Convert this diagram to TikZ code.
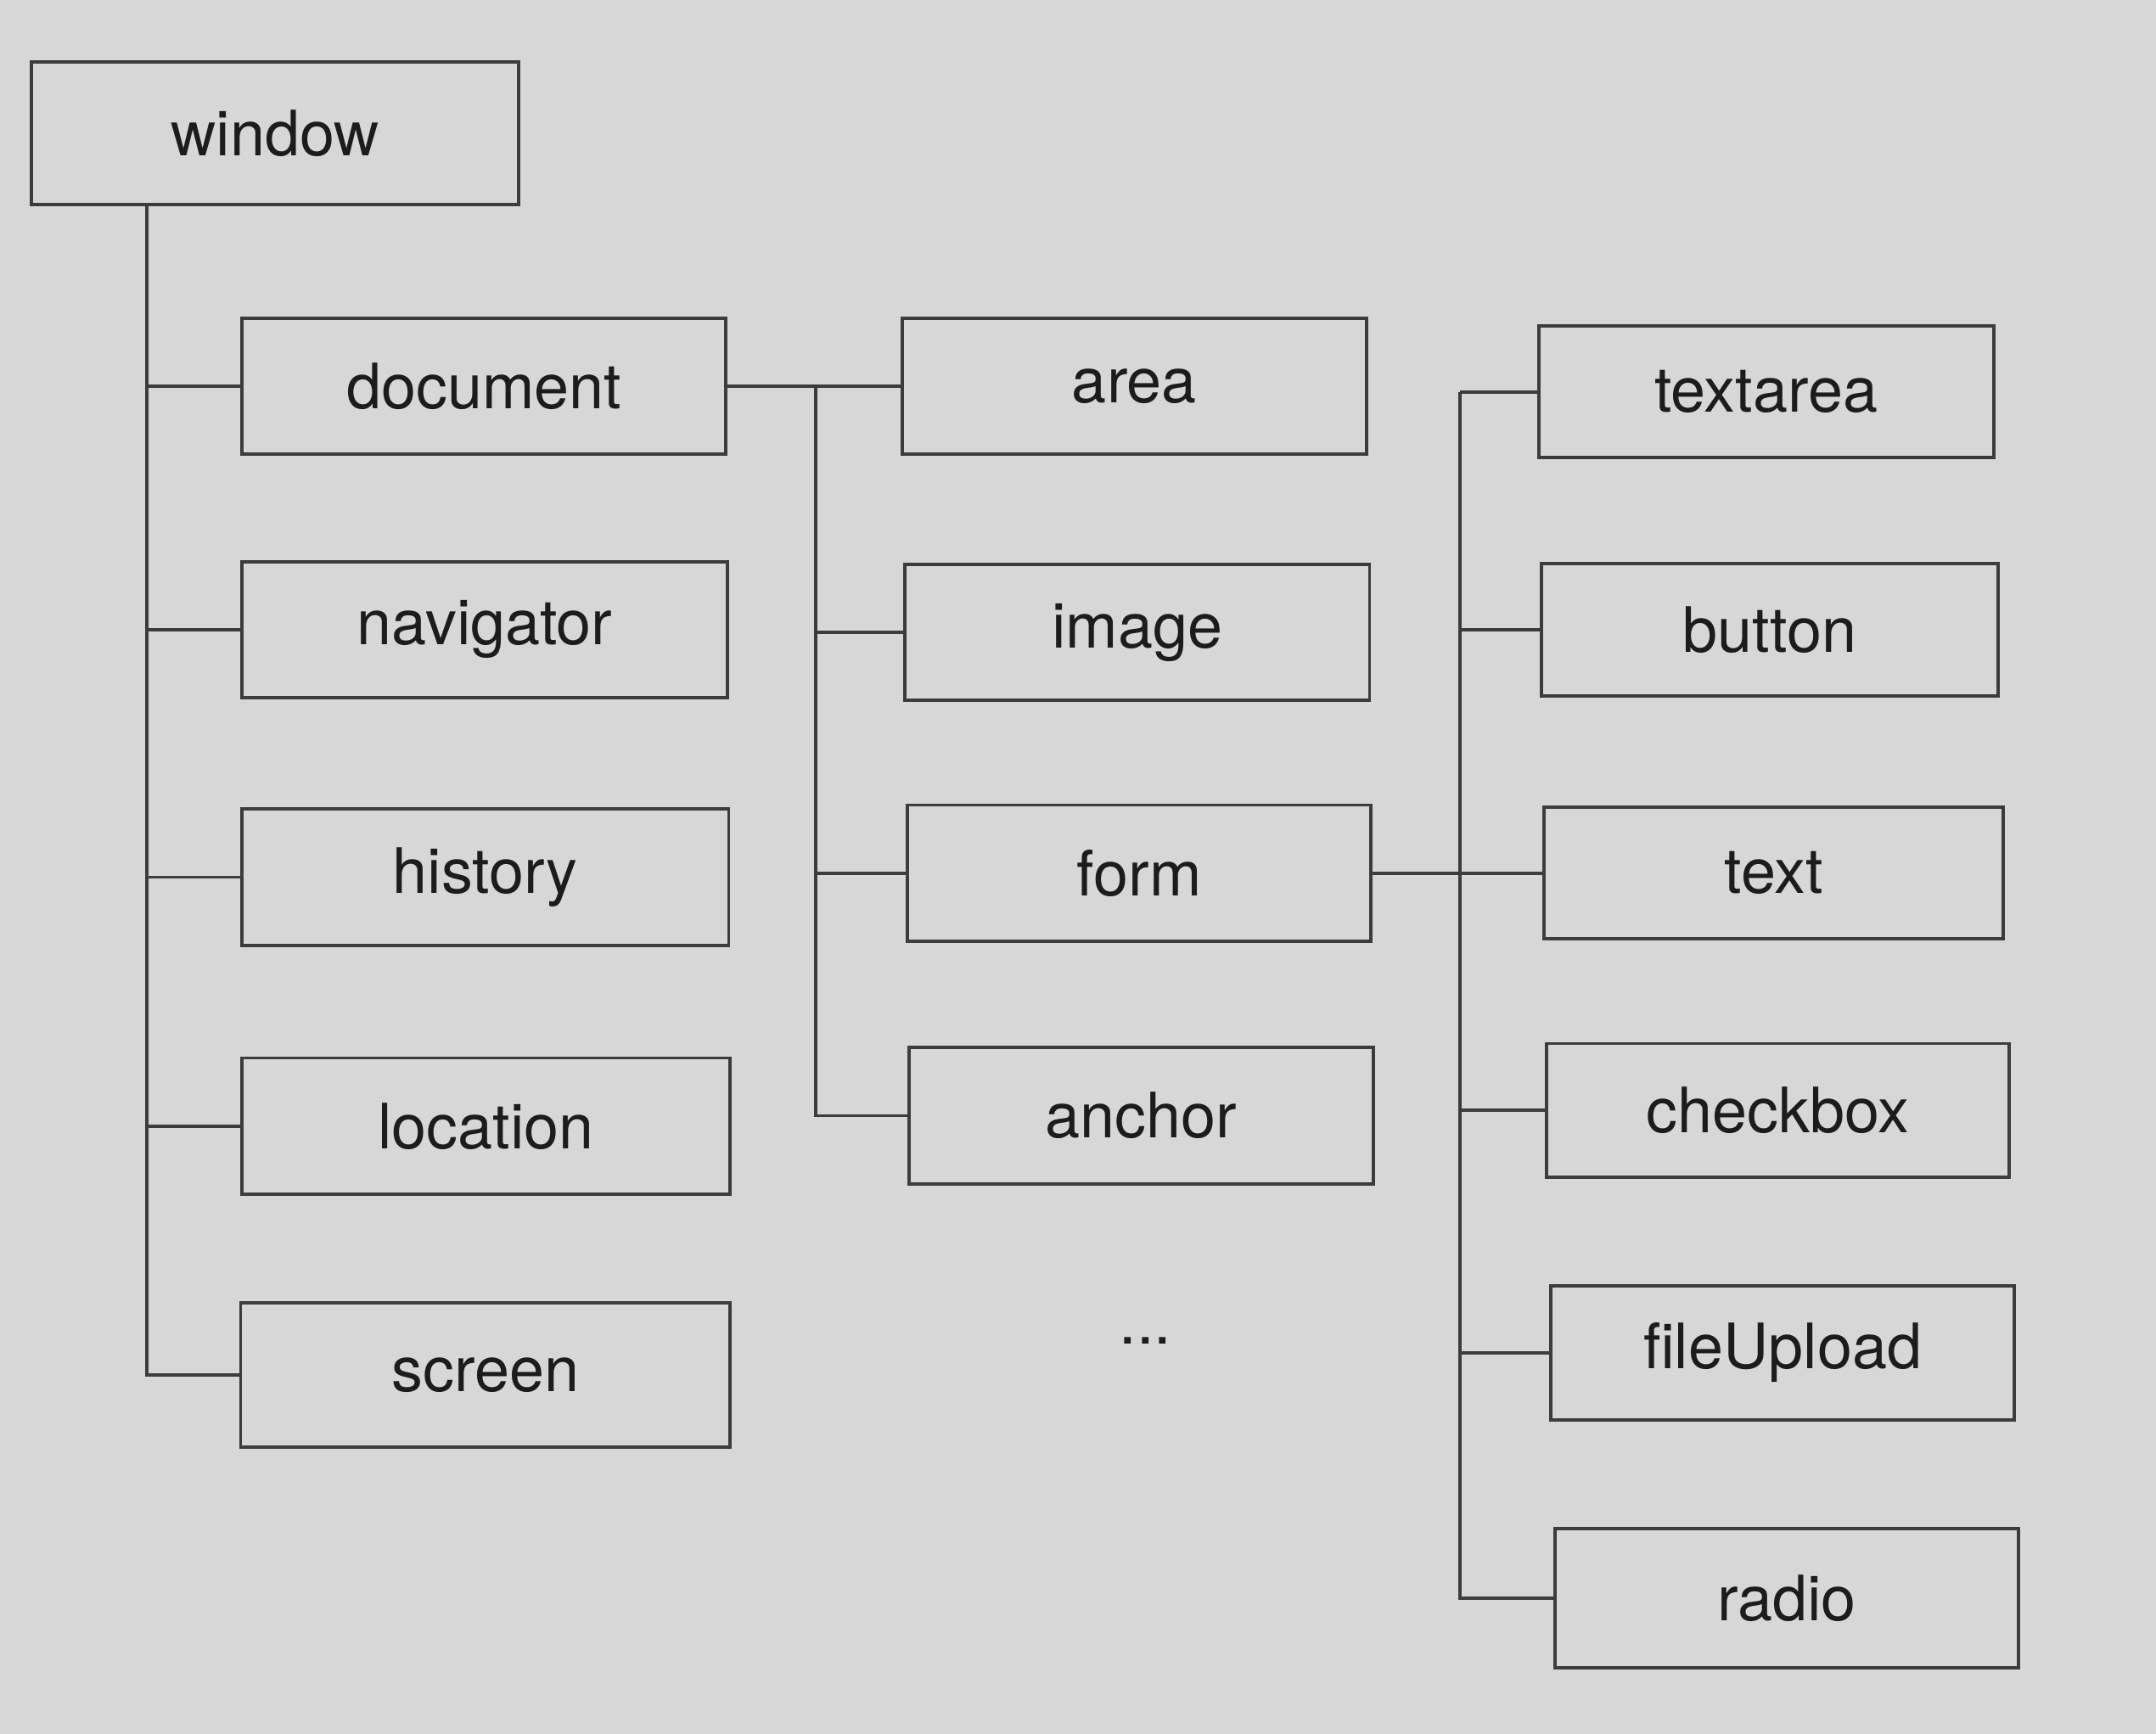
\documentclass[tikz,border=0pt]{standalone}
\usepackage{fontspec}
\setmainfont{TeX Gyre Heros}
\definecolor{bg}{HTML}{D6D7D6}
\definecolor{ln}{HTML}{3C3C3C}
\definecolor{tx}{HTML}{1C1C1C}
\begin{document}
\begin{tikzpicture}[x=0.016199cm,y=-0.016199cm,
  box/.style={draw=ln,line width=1.1pt,minimum width=#1*0.016199cm,minimum height=99*0.016199cm,inner sep=0pt,text=tx,font=\fontsize{21}{25}\selectfont},
  conn/.style={draw=ln,line width=1.1pt}]
\fill[bg] (0,0) rectangle (1568,1261);
\useasboundingbox (0,0) rectangle (1568,1261);
% column 0
\node[box=354,minimum height=104*0.016199cm] (window) at (200,97) {window};
% column 1
\node[box=352] (document) at (352,281) {document};
\node[box=353] (navigator) at (352.5,458) {navigator};
\node[box=354] (history) at (353,638) {history};
\node[box=355] (location) at (353.5,819) {location};
\node[box=356,minimum height=105*0.016199cm] (screen) at (353,1000) {screen};
% column 2
\node[box=338] (area) at (825,281) {area};
\node[box=338] (image) at (827,460) {image};
\node[box=337] (form) at (828.5,635) {form};
\node[box=338] (anchor) at (830,811.5) {anchor};
\node[text=tx,font=\fontsize{21}{25}\selectfont] (more) at (833,975) {...};
% column 3
\node[box=331,minimum height=96*0.016199cm] (textarea) at (1284.5,285) {textarea};
\node[box=332,minimum height=96*0.016199cm] (button) at (1287,458) {button};
\node[box=334,minimum height=96*0.016199cm] (text) at (1290,635) {text};
\node[box=336,minimum height=97*0.016199cm] (checkbox) at (1293,807.5) {checkbox};
\node[box=337,minimum height=98*0.016199cm] (fileUpload) at (1296.5,984) {fileUpload};
\node[box=337,minimum height=101*0.016199cm] (radio) at (1299.5,1162.5) {radio};
% trunks
\coordinate (t1) at (107,0);
\coordinate (t2) at (593,0);
\coordinate (t3) at (1062,0);
\draw[conn] (window.south -| t1) |- (screen.west);
\foreach \n in {document,navigator,history,location}
  \draw[conn] (t1 |- \n.west) -- (\n.west);
\draw[conn] (document.east) -- (area.west);
\draw[conn] (t2 |- document.east) |- (anchor.west);
\foreach \n in {image,form}
  \draw[conn] (t2 |- \n.west) -- (\n.west);
\draw[conn] (form.east) -- (text.west);
\draw[conn] (t3 |- textarea.west) -- (textarea.west);
\draw[conn] (t3 |- textarea.west) |- (radio.west);
\foreach \n in {button,checkbox,fileUpload}
  \draw[conn] (t3 |- \n.west) -- (\n.west);
\end{tikzpicture}
\end{document}
